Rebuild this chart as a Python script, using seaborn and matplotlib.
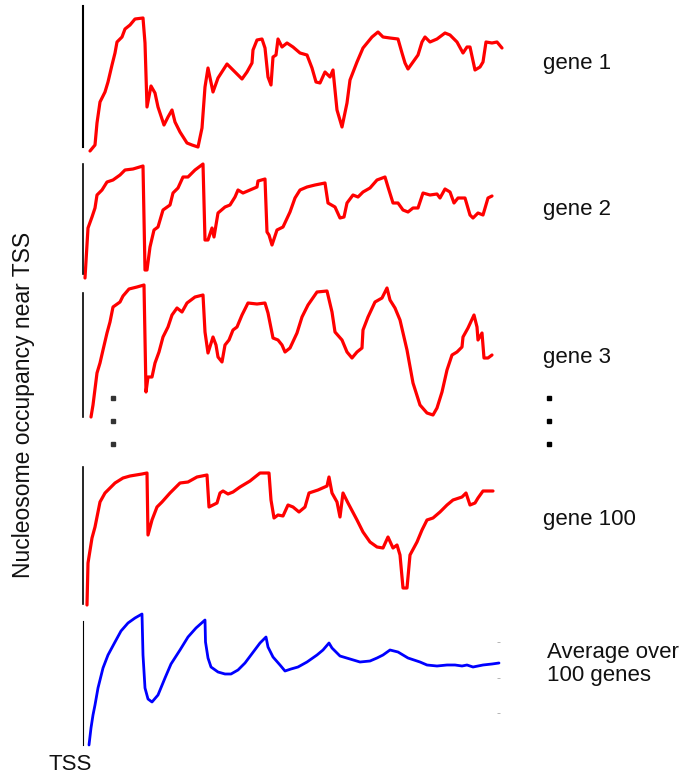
import numpy as np
import pandas as pd
import matplotlib
matplotlib.use("Agg")
import matplotlib.pyplot as plt
import seaborn as sns
from matplotlib.lines import Line2D

# ---------------- data (position from TSS, nucleosome occupancy) ----------------
gene1_pos = [7, 12, 14, 17, 22, 25, 29, 32, 34, 39, 42, 47, 52, 60, 62, 64, 68, 72, 75, 81, 85, 89, 92, 97,
             104, 109, 115, 119, 122, 125, 130, 135, 144, 150, 159, 164, 169, 170, 174, 179, 182, 185, 188,
             190, 193, 195, 199, 204, 210, 217, 224, 229, 233, 237, 242, 247, 250, 254, 259, 264, 267, 274,
             280, 289, 295, 300, 307, 315, 319, 322, 325, 330, 335, 339, 342, 347, 354, 362, 367, 374, 380,
             384, 387, 392, 397, 400, 403, 409, 414, 419]
gene1_occ = [-4, 2, 24, 45, 55, 65, 82, 94, 105, 110, 118, 122, 128, 129, 104, 40, 61, 54, 40, 22, 30, 37, 25,
             15, 4, 2, 0, 19, 60, 79, 55, 69, 83, 77, 68, 75, 84, 97, 107, 108, 99, 70, 62, 90, 92, 108, 100,
             104, 100, 94, 92, 79, 65, 64, 75, 70, 77, 37, 20, 44, 67, 85, 99, 110, 115, 110, 109, 108, 94,
             84, 78, 85, 92, 105, 110, 105, 108, 114, 112, 105, 94, 100, 100, 77, 80, 85, 105, 104, 105, 99]

gene2_pos = [2, 5, 9, 12, 14, 19, 24, 30, 37, 42, 50, 60, 62, 64, 67, 71, 75, 80, 87, 90, 95, 100, 105, 112,
             120, 122, 125, 129, 131, 135, 142, 147, 152, 155, 160, 167, 174, 175, 182, 184, 186, 189, 194,
             200, 207, 212, 217, 224, 232, 242, 245, 252, 257, 261, 264, 270, 275, 280, 287, 294, 302, 305,
             310, 315, 320, 325, 330, 335, 340, 347, 354, 357, 362, 367, 371, 375, 382, 387, 390, 395, 400,
             405, 409]
gene2_occ = [-4, 46, 57, 66, 79, 84, 92, 94, 99, 104, 105, 108, 4, 4, 27, 44, 47, 64, 69, 81, 86, 97, 97, 104,
             110, 34, 34, 46, 37, 61, 67, 69, 77, 84, 81, 84, 87, 93, 95, 42, 39, 29, 44, 47, 62, 76, 84, 87,
             89, 91, 71, 67, 56, 57, 71, 79, 77, 82, 86, 94, 97, 87, 71, 71, 64, 62, 66, 66, 81, 79, 80, 76,
             85, 82, 71, 76, 76, 59, 56, 61, 59, 76, 78]

gene3_pos = [8, 10, 14, 17, 20, 24, 27, 30, 37, 40, 46, 54, 61, 63, 65, 69, 72, 76, 80, 85, 89, 94, 99, 104,
             112, 120, 122, 125, 130, 133, 135, 139, 142, 146, 150, 154, 159, 165, 174, 182, 185, 190, 195,
             199, 202, 207, 214, 219, 225, 234, 244, 249, 252, 259, 264, 269, 274, 279, 280, 285, 292, 299,
             304, 307, 312, 317, 324, 330, 337, 344, 350, 354, 359, 364, 369, 374, 379, 380, 385, 391, 394,
             395, 399, 401, 405, 409]
gene3_occ = [0, 12, 44, 54, 67, 84, 95, 110, 115, 121, 128, 130, 132, 25, 40, 40, 54, 65, 80, 90, 102, 109,
             105, 114, 120, 122, 85, 64, 80, 72, 60, 55, 72, 77, 87, 90, 102, 114, 113, 114, 104, 79, 77, 72,
             65, 69, 84, 100, 112, 125, 126, 105, 85, 77, 65, 59, 65, 69, 87, 100, 115, 119, 129, 117, 109,
             97, 67, 34, 12, 4, 2, 9, 25, 47, 62, 65, 70, 80, 89, 102, 90, 77, 84, 59, 59, 62]

gene100_pos = [4, 5, 9, 12, 17, 22, 27, 32, 40, 47, 59, 64, 65, 69, 74, 79, 87, 97, 105, 114, 124, 126, 130,
               134, 137, 140, 145, 150, 157, 167, 177, 186, 188, 191, 195, 200, 205, 210, 216, 222, 226, 235,
               244, 246, 249, 254, 257, 260, 265, 274, 280, 287, 294, 300, 305, 310, 314, 317, 320, 324, 327,
               334, 339, 344, 350, 357, 364, 370, 379, 383, 387, 392, 395, 400, 410]
gene100_occ = [-1, 41, 66, 77, 102, 111, 116, 121, 126, 128, 130, 131, 69, 84, 97, 102, 111, 121, 122, 127,
               129, 97, 99, 101, 111, 113, 110, 112, 117, 123, 131, 131, 104, 86, 89, 88, 99, 97, 92, 97, 111,
               114, 118, 127, 111, 102, 87, 111, 101, 84, 72, 62, 57, 56, 67, 56, 59, 49, 16, 16, 49, 62, 74,
               84, 86, 92, 99, 104, 107, 111, 99, 101, 106, 113, 113]

avg_pos = [6, 8, 10, 12, 15, 20, 25, 32, 38, 45, 52, 59, 60, 62, 65, 69, 75, 82, 88, 97, 105, 113, 122, 122.5,
           125, 128, 135, 142, 148, 155, 162, 168, 177, 183, 185, 190, 197, 202, 208, 215, 224, 234, 240, 246,
           249, 257, 267, 277, 287, 294, 300, 307, 315, 325, 337, 344, 354, 364, 372, 379, 384, 390, 400, 409,
           416]
avg_occ = [0, 17, 30, 40, 57, 77, 90, 103, 114, 122, 127, 131, 90, 57, 46, 43, 50, 67, 81, 95, 108, 117, 125,
           103, 87, 78, 73, 71, 71, 75, 82, 90, 102, 108, 98, 88, 80, 74, 76, 78, 83, 90, 95, 102, 97, 89, 86,
           83, 84, 87, 90, 95, 93, 87, 83, 80, 79, 80, 80, 79, 80, 78, 80, 81, 82]

labels = ["gene 1", "gene 2", "gene 3", "gene 100", "Average over\n100 genes"]
gene1_ticks = [14, 44, 75, 105]
avg_ticks = [32, 67, 103]

# ---------------- figure ----------------
sns.set_style("white")
plt.rcParams['font.family'] = ['Liberation Sans', 'DejaVu Sans']

W, H = 681, 778
fig = plt.figure(figsize=(W / 100, H / 100), dpi=100)

panels = [
    # pos, occ, colour, top px, bottom px, spine width, line width
    (gene1_pos, gene1_occ, "#ff0000", 6, 147, 1.5, 2.3),
    (gene2_pos, gene2_occ, "#ff0000", 164, 274, 1.2, 2.3),
    (gene3_pos, gene3_occ, "#ff0000", 293, 417, 1.2, 2.3),
    (gene100_pos, gene100_occ, "#ff0000", 467, 604, 1.2, 2.3),
    (avg_pos, avg_occ, "#0000ff", 621, 745, 0.8, 2.0),
]
label_y = [63, 209, 357, 520, 664]

axes = []
for i, (pos, occ, col, top, bot, slw, lw) in enumerate(panels):
    ax = fig.add_axes([83 / W, (H - bot) / H, 417 / W, (bot - top) / H])
    df = pd.DataFrame({"pos": pos, "occ": occ})
    sns.lineplot(data=df, x="pos", y="occ", ax=ax, color=col, linewidth=lw,
                 estimator=None, sort=False)
    for ln in ax.lines:
        ln.set_clip_on(False)
        ln.set_solid_joinstyle("round")
    ax.set_xlim(0, 417)
    ax.set_ylim(0, bot - top)
    ax.set_xlabel("")
    ax.set_ylabel("")
    ax.set_xticks([])
    for s in ["top", "right", "bottom"]:
        ax.spines[s].set_visible(False)
    ax.spines["left"].set_color("black")
    ax.spines["left"].set_linewidth(slw)
    ax.patch.set_alpha(0)
    if i == 0:
        ax.set_yticks(gene1_ticks)
        ax.tick_params(axis="y", direction="in", length=2, width=0.6,
                       color="#aaaaaa", labelleft=False)
    elif i == 4:
        ax.set_yticks(avg_ticks)
        ax.tick_params(axis="y", left=False, right=True, direction="in", length=2,
                       width=0.6, color="#aaaaaa", labelleft=False, labelright=False)
    else:
        ax.set_yticks([])
    fig.text(543 / W if i < 4 else 547 / W, 1 - label_y[i] / H, labels[i],
             fontsize=16, ha="left", va="center", linespacing=1.1, color="#111111")
    axes.append(ax)

# vertical ellipsis dots between gene 3 and gene 100
for xd, cd in [(113, "#333333"), (549, "#000000")]:
    fig.add_artist(Line2D([xd / W] * 3, [1 - 398 / H, 1 - 421 / H, 1 - 444 / H],
                          transform=fig.transFigure, linestyle="none",
                          marker="s", markersize=2.6, color=cd))

fig.text(48 / W, 1 - 764 / H, "TSS", fontsize=16, ha="left", va="center", color="#111111")
fig.text(24 / W, 1 - 405 / H, "Nucleosome occupancy near TSS", fontsize=16.5,
         rotation=90, ha="center", va="center", color="#111111")

fig.savefig("out.png", dpi=100)
